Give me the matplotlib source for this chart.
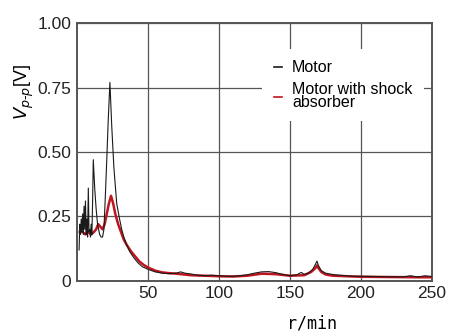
import matplotlib
matplotlib.use("Agg")
import matplotlib.pyplot as plt

# -----------------------------------
# DATA
# -----------------------------------

motor_x = [1.5, 2, 2.5, 3, 3.5, 4, 4.5, 5, 5.5, 6, 6.5, 7, 7.5, 8, 8.5,
           9, 9.5, 10, 10.5, 11, 11.5, 12.5, 13.5, 14.5, 16, 17, 18, 19,
           20, 21, 22, 23.2, 24.5, 26, 28, 30, 31.5, 33, 35, 37, 40, 43,
           46, 50, 55, 60, 65, 70, 73, 76, 80, 85, 90, 95, 100, 105, 110,
           115, 120, 125, 130, 135, 140, 145, 150, 155, 158, 160, 163, 166,
           168, 169, 170, 172, 175, 180, 185, 190, 195, 200, 210, 220, 230,
           235, 240, 245, 250]
motor_y = [0.12, 0.22, 0.18, 0.24, 0.19, 0.26, 0.18, 0.29, 0.2, 0.31, 0.18,
           0.24, 0.17, 0.36, 0.19, 0.2, 0.17, 0.22, 0.18, 0.3, 0.47, 0.36,
           0.28, 0.22, 0.18, 0.17, 0.17, 0.2, 0.33, 0.47, 0.62, 0.77, 0.6,
           0.44, 0.3, 0.24, 0.2, 0.17, 0.14, 0.115, 0.09, 0.07, 0.055, 0.045,
           0.035, 0.03, 0.028, 0.03, 0.035, 0.03, 0.027, 0.022, 0.02, 0.022,
           0.02, 0.018, 0.018, 0.02, 0.024, 0.03, 0.035, 0.036, 0.032, 0.025,
           0.02, 0.024, 0.033, 0.025, 0.03, 0.045, 0.065, 0.077, 0.06, 0.04,
           0.03, 0.025, 0.022, 0.02, 0.018, 0.018, 0.017, 0.016, 0.016, 0.02,
           0.015, 0.02, 0.017]

absorber_x = [2, 4, 6, 8, 10, 12, 13.5, 15, 16.5, 18, 19.5, 21, 22.5, 24,
              25.5, 27, 29, 31, 33, 35, 38, 41, 44, 47, 50, 55, 60, 65, 70,
              75, 80, 90, 100, 110, 120, 130, 140, 150, 160, 165, 168, 169,
              170, 172, 175, 180, 190, 200, 220, 240, 250]
absorber_y = [0.19, 0.19, 0.18, 0.19, 0.18, 0.19, 0.2, 0.22, 0.21, 0.2,
              0.22, 0.26, 0.3, 0.33, 0.3, 0.26, 0.22, 0.19, 0.16, 0.14,
              0.115, 0.095, 0.075, 0.062, 0.052, 0.04, 0.033, 0.03, 0.028,
              0.025, 0.022, 0.02, 0.018, 0.017, 0.02, 0.028, 0.026, 0.02,
              0.022, 0.035, 0.05, 0.06, 0.05, 0.035, 0.025, 0.02, 0.018,
              0.016, 0.015, 0.014, 0.014]

x_ticks = [50, 100, 150, 200, 250]
y_ticks = [0, 0.25, 0.5, 0.75, 1.0]
y_tick_labels = ["0", "0.25", "0.50", "0.75", "1.00"]

# -----------------------------------
# FIGURE
# -----------------------------------

plt.rcParams["font.family"] = ["Liberation Sans", "DejaVu Sans"]

fig = plt.figure(figsize=(4.5, 3.34), dpi=100)
ax = fig.add_axes([0.171, 0.159, 0.789, 0.772])

ax.plot(absorber_x, absorber_y, color="#c0141e", lw=1.8,
        label="Motor with shock\nabsorber", zorder=3)
ax.plot(motor_x, motor_y, color="#1a1a1a", lw=0.8, label="Motor", zorder=4)

ax.set_xlim(0, 250)
ax.set_ylim(0, 1.0)
ax.set_xticks(x_ticks)
ax.set_yticks(y_ticks)
ax.set_yticklabels(y_tick_labels)
ax.tick_params(length=0, labelsize=12.5, pad=4, colors="#222222")
ax.grid(True, color="#555555", lw=0.9)
ax.set_axisbelow(True)

for spine in ax.spines.values():
    spine.set_color("#555555")
    spine.set_linewidth(1.4)

# LEGEND (no frame, white background hides the grid behind it)
handles, labels = ax.get_legend_handles_labels()
leg = ax.legend(handles[::-1], labels[::-1], loc="upper left",
                bbox_to_anchor=(0.5, 0.93), frameon=True, fontsize=11.5,
                handlelength=0.5, handletextpad=0.65, labelspacing=0.45,
                borderpad=0.7, framealpha=1.0)
leg.get_frame().set_edgecolor("none")
leg.get_frame().set_boxstyle("square", pad=0)
for t in leg.get_texts():
    t.set_linespacing(0.8)
for line in leg.get_lines():
    line.set_linewidth(1.2)

fig.text(0.055, 0.725, r"$V_{p\text{-}p}$[V]", rotation=90, ha="center",
         va="center", fontsize=13)
fig.text(0.693, 0.03, "r/min", ha="center", va="center", fontsize=12,
         family="DejaVu Sans Mono")

fig.savefig("out.png", dpi=100)
